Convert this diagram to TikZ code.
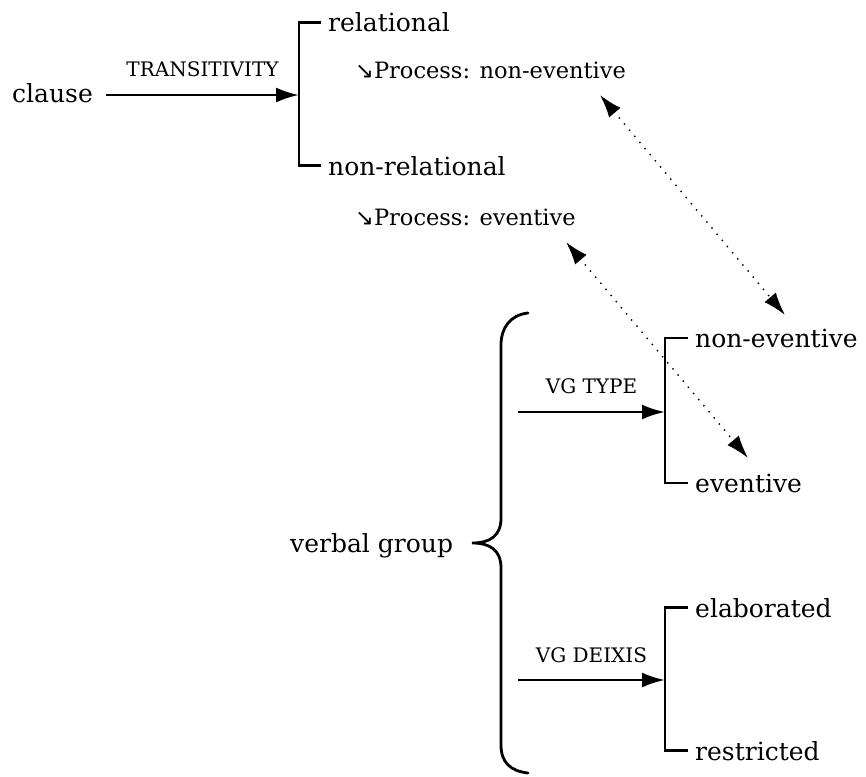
\documentclass[tikz,border=0pt]{standalone}
\usepackage{fontspec}
\setmainfont{DejaVu Serif}
\newfontfamily\arrowfont{DejaVu Sans}
\usetikzlibrary{arrows.meta, calc}

\begin{document}
\begin{tikzpicture}[x=1pt, y=-1pt, >={Latex[length=23pt, width=15pt]}]

	% --- Parametri ---
	\def\gap{7pt}    % distanza tra tratto della parentesi e testo
	\def\lift{17pt}  % distanza etichetta-freccia

	% --- Stili ---
	\tikzset{
		term/.style={inner sep=0pt, anchor=base west, font=\fontsize{25}{30}\selectfont},
		feature/.style={inner sep=0pt, anchor=base west, font=\fontsize{22.5}{27}\selectfont},
		sysname/.style={inner sep=0pt, font=\fontsize{20}{24}\selectfont},
		entry/.style={->, line width=2.6pt},
		bracket/.style={line width=2.6pt},
		brace/.style={line width=2.8pt, line cap=round},
		link/.style={<->, line width=2pt, line cap=round, dash pattern=on 0pt off 8pt}
	}

	\useasboundingbox (0,0) rectangle (866,776);

	% --- Sistema della clausola ---
	\node[term] (clause) at (12,102) {clause};
	\coordinate (b1) at (299,95);
	\draw[entry] ([xshift=13pt]clause.east |- b1) -- (b1)
		node[sysname, midway, above=\lift] (trans) {TRANSITIVITY};

	\node[term] (relational) at (328,32) {relational};
	\node[term] (nonrel) at (328,175) {non-relational};
	\draw[bracket] ([xshift=-\gap]relational.west) -| (b1) |- ([xshift=-\gap]nonrel.west);

	% Realizzazioni
	\node[feature] (procne) at (355,78) {{\arrowfont ↘}Process: non-eventive};
	\node[feature] (procev) at (355,225) {{\arrowfont ↘}Process: eventive};

	% --- Gruppo verbale ---
	\node[term] (vg) at (290,552) {verbal group};
	\draw[brace] (528,313) .. controls (510,315) and (501,328) .. (501,345)
		-- (501,518) .. controls (501,536) and (490,543) .. (472,543)
		.. controls (490,543) and (501,550) .. (501,568)
		-- (501,745) .. controls (501,762) and (510,771) .. (528,773);

	% VG TYPE
	\coordinate (t2) at (518,412);
	\coordinate (b2) at (665,412);
	\draw[entry] (t2) -- (b2) node[sysname, midway, above=\lift] (vgtype) {VG TYPE};
	\node[term] (noneventive) at (695,347) {non-eventive};
	\node[term] (eventive) at (695,492) {eventive};
	\draw[bracket] ([xshift=-\gap]noneventive.west) -| (b2) |- ([xshift=-\gap]eventive.west);

	% VG DEIXIS
	\coordinate (t3) at (518,680);
	\coordinate (b3) at (665,680);
	\draw[entry] (t3) -- (b3) node[sysname, midway, above=16pt] (vgdeixis) {VG DEIXIS};
	\node[term] (elaborated) at (695,617) {elaborated};
	\node[term] (restricted) at (695,760) {restricted};
	\draw[bracket] ([xshift=-\gap]elaborated.west) -| (b3) |- ([xshift=-\gap]restricted.west);

	% --- Collegamenti tratteggiati ---
	\coordinate (d1a) at (600,95);
	\coordinate (d1b) at (785,315);
	\coordinate (d2a) at (566,242);
	\coordinate (d2b) at (748,458);
	\draw[link] (d1a) -- (d1b);
	\draw[link] (d2a) -- (d2b);

\end{tikzpicture}
\end{document}
